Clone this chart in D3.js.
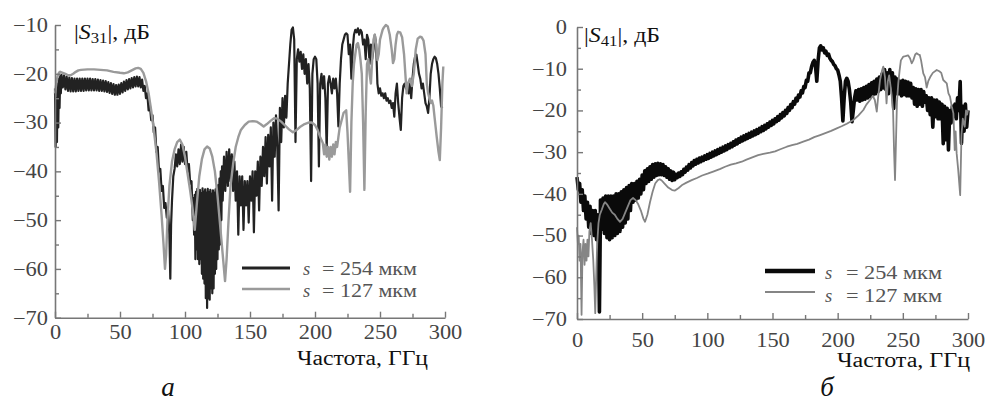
<!DOCTYPE html>
<html>
<head>
<meta charset="utf-8">
<script src="https://cdn.jsdelivr.net/npm/d3@7"></script>
<style>
  body { margin: 0; background: #fff; }
  svg { display: block; }
  text { font-family: "Liberation Serif", "Times New Roman", serif; }
</style>
</head>
<body>
<svg id="chart" width="985" height="401"></svg>
<script>
// Frequency axis ticks (GHz)
const freqTicks = [0, 50, 100, 150, 200, 250, 300];
const freqMinor = [25, 75, 125, 175, 225, 275];
// Level axis ticks (dB)
const s31Ticks = [-10, -20, -30, -40, -50, -60, -70];
const s31Minor = [-15, -25, -35, -45, -55, -65];
const s41Ticks = [0, -10, -20, -30, -40, -50, -60, -70];
const s41Minor = [-5, -15, -25, -35, -45, -55, -65];

const legendLabels = ["= 254 мкм", "= 127 мкм"];

// |S31|, dB vs frequency, GHz — gap s = 254 um
const s31_254 = [[0,-23],[0.5,-35],[1,-25],[1.5,-34],[2,-22],[2.5,-31],[3,-21],[3.5,-27],[4,-20.5],[4.5,-24],
[5,-20.2],[6,-22.8],[7,-20.3],[8,-23.2],[9,-20.6],[10,-23.5],[11,-20.8],[12,-23.6],[13,-20.9],[14,-23.6],[15,-21],[16,-23.6],[17,-21],[18,-23.5],[19,-21],[20,-23.5],[21,-21],[22,-23.5],[23,-21],[24,-23.4],[25,-21],[26,-23.4],[27,-21],[28,-23.4],[29,-21.1],[30,-23.4],[31,-21.1],[32,-23.4],[33,-21.2],[34,-23.5],[35,-21.3],[36,-23.5],[37,-21.4],[38,-23.6],[39,-21.5],[40,-23.7],[41,-21.7],[42,-23.9],[43,-21.9],[44,-24.1],[45,-22.1],[46,-24.3],[47,-22.3],[48,-24.3],[49,-22.2],[50,-24.1],[51,-21.9],[52,-23.8],[53,-21.6],[54,-23.5],[55,-21.3],[56,-23.2],[57,-21.1],[58,-23],[59,-20.9],[60,-22.8],[61,-20.7],[62,-22.6],[63,-20.6],[64,-22.6],[65,-20.7],[66,-22.8],[67,-21.2],[68,-23.5],[69,-22.5],[70,-25],
[71,-24],[72,-27.5],[73,-26.5],[74,-29.5],[75,-28.5],[76,-32],[77,-31],[78,-36],[79,-35],[80,-40],[81,-39.5],[82,-44],[83,-43],[84,-47.5],[85,-46.5],[86,-49.5],[87,-48],[88,-53],[88.7,-62],[89.3,-51],[90,-46],
[91,-41],[92,-39.5],[93,-36.5],[94,-39],[95,-35.5],[96,-38.5],[97,-34.5],[98,-38],[99,-35],[100,-38.5],[101,-36],[102,-40],[103,-38.5],[104,-42.5],[105,-42],
[106,-50],[106.5,-45.5],[107,-53],[107.5,-44.8],[108,-58],[108.5,-44.2],[109,-56],[109.5,-43.6],[110,-58],[110.5,-44.3],[111,-59],[111.5,-43.8],[112,-58],[112.5,-44.5],[113,-61],[113.5,-43.5],[114,-62],[114.5,-44.2],[115,-63],[115.5,-43.7],[116,-66],[116.5,-44.4],[117,-68],[117.5,-43.6],[118,-66],[118.5,-44.3],[119,-66.3],[119.5,-43.8],[120,-64],[120.5,-44.6],[121,-65],[121.5,-43.9],[122,-64],[122.5,-44.4],[123,-61],[123.5,-43.7],[124,-60],[124.5,-43.2],[125,-58],[125.5,-42.8],[126,-56],[126.5,-41.5],[127,-55],[127.5,-40],[128,-50],[128.5,-39],[129,-46],
[130,-37],[131,-44],[132,-36],[133,-43],[134,-35.5],[135,-42],[136,-36.5],[137,-44],[138,-38],[139,-46],[140,-40],[141,-53],[142,-41],[143,-47],[144,-41],[145,-52],[146,-42],[147,-47],[148,-42],[149,-50.5],[150,-41],[151,-46],[152,-40],[153,-52.5],[154,-40],[155,-45],[156,-38],[157,-48],[158,-37],[159,-43],[160,-35],[161,-41],[162,-33],[163,-42.5],[164,-32.5],[165,-39],[166,-31],[167,-46],[168,-30],[169,-37],[170,-28.5],[171,-35],[172,-48],[173,-27],[174,-34],[175,-25],[176,-31],[177,-24.5],[178,-29],[179,-22],
[180,-18],[181,-14],[182,-11],[183,-10.5],[184,-13],[185,-34],[186,-17],[187,-15],[188,-17.5],[189,-15.5],[190,-19],[191,-16],[192,-20],[193,-17],[194,-22],[195,-18],[196,-23],[197,-42],[198,-20],[199,-17],[200,-16.5],[201,-17],[202,-22],[203,-39],[204,-22],[205,-20],[206,-23],[207,-20.5],[208,-25],[209,-35.6],[210,-22],[211,-20.5],[212,-22],[213,-24],[214,-21],[215,-23],[216,-21],[217,-24],[218,-30.8],[219,-22],
[220,-17],[221,-14],[222,-13],[223,-12],[224,-11.7],[225,-12],[226,-16],[227,-14],[228,-21],[229,-15],[230,-12],[231,-11],[232,-11.5],[233,-10.7],[234,-12],[235,-11],[236,-11.5],[237,-14],[238,-13],[239,-17],[240,-12],[241,-13],[242,-18],[243,-14],[244,-17],[245,-15],[246,-12],[247,-14],[248,-22],[249,-24],
[250,-23],[251,-24.5],[252,-24],[253,-25],[254,-24],[255,-25.5],[256,-25],[257,-26],[258,-25.5],[259,-27],[260,-26],[261,-28.8],[262,-24],[263,-22],[264,-26],[265,-29],[266,-31.5],[267,-25],[268,-22.5],[269,-22],[270,-23],[271,-22],[272,-24],[273,-22],[274,-25],[275,-21],[276,-18],[277,-16.5],[278,-16.1],[279,-18],
[280,-20],[281,-21],[282,-23],[283,-22],[284,-24],[285,-26],[286,-26.7],[287,-28],[288,-25],[289,-20],[290,-18],[291,-17],[292,-16.5],[293,-16.8],[294,-18],[295,-20],[296,-23],[297,-26.7],[298,-27]];

// |S31|, dB — gap s = 127 um
const s31_127 = [[0,-24],[1,-22],[2,-20.5],[3,-19.8],[4,-19.6],[6,-19.8],[8,-20],[10,-20.3],[12,-20.3],[14,-20],[16,-19.6],[18,-19.3],[20,-19.2],[25,-19.1],[30,-19.1],[35,-19.2],[40,-19.3],[45,-19.6],[50,-19.8],[53,-19.9],[56,-19.7],[59,-19.3],[62,-18.9],[64,-18.8],[66,-19],[68,-19.8],[70,-21.5],[72,-24],[74,-27.5],[76,-31.5],[78,-36],[80,-42],[82,-49],[83.5,-55],[84.6,-60],[85.5,-57],[86.5,-50],[88,-43],[90,-38],[92,-35.5],[94,-34],[96,-33.5],[98,-34.5],[100,-37],[102,-40.5],[104,-44],[106,-48],[107.5,-52],[109,-47],[111,-41],[113,-37.5],[115,-35.5],[117,-34.9],[119,-35.3],[121,-37],[123,-40],[125,-45],[127,-51],[129,-57],[130.8,-62.5],[132,-58],[133.5,-50],[135,-43],[137,-38.5],[139,-35],[141,-33],[143,-31.5],[146,-30.5],[149,-29.8],[152,-29.7],[155,-29.8],[158,-30.3],[160.5,-30.8],[163,-30.3],[166,-29.6],[168.5,-29.1],[171,-29.2],[174,-29.8],[177,-30.6],[180,-31.4],[183,-32],[186,-31.5],[189,-30.8],[192,-30.3],[195,-30],[197.5,-30],[200,-30.5],[202,-31.5],[204,-33],[206,-34.2],[207,-36.5],[208,-34.5],[209,-37],[210,-35],[211,-37.6],[212,-35],[213,-37],[214,-34.5],[215,-36.5],[216,-34],[217,-35],[218,-33],[219,-31],[220,-30],[221,-29],[222,-28],[224,-27.5],[225,-32],[226,-38],[227,-44.2],[228,-30],[229,-22],[230,-18],[231,-16],[232,-14],[233,-13.7],[234,-15],[235,-17.2],[236,-20],[237,-30],[238,-43.8],[239,-28],[240,-18],[241,-17],[242,-20],[243,-22],[244,-17],[245,-13],[246,-12],[247,-14],[248,-17.2],[249,-16],[250,-13],[251,-12],[252,-11],[253,-10.5],[254.5,-10],[256,-10.3],[257.5,-12],[259,-15],[260,-17.8],[261,-17],[262,-14],[263,-12],[264,-11.4],[265.5,-11.5],[267,-12.5],[268.5,-16],[270,-22],[270.5,-24],[271.5,-22],[273,-21],[274.5,-22.5],[276,-20],[277.5,-15],[279,-12.8],[280.8,-12.4],[282,-12.5],[283.5,-13.2],[285,-16],[286,-22],[287,-24],[288,-25],[289,-26],[290,-25.5],[291,-26.5],[292,-29],[293.6,-32.9],[295,-36],[296,-37.7],[297,-31],[298,-22],[298.7,-18.5]];

// |S41|, dB — gap s = 254 um
const s41_254 = [[0,-36],[1,-39],[2,-37.5],[3,-42],[4,-39],[5,-44],[6,-40.5],[7,-46],[8,-42],[9,-48],[10,-43],[11,-49.5],[12,-44],[13,-50],[14,-44],[15,-51],[16,-45],[16.6,-52],[17.2,-68.3],[17.8,-50],[18,-41.5],[19,-48.5],[20,-41],[21,-49.5],[22,-40.5],[23,-50.5],[24,-40.5],[25,-51],[26,-40.5],[27,-50.5],[28,-40.5],[29,-50],[30,-40],[31,-49.5],[32,-40],[33,-49],[34,-39.5],[35,-48],[36,-39],[37,-47],[38,-38.5],[39,-46],[40,-38],[41,-44],[42,-37.5],[43,-42],[44,-37.5],[45,-41.5],[46,-37],[47,-41],[48,-36.5],[49,-40],[50,-35.5],[51,-39],[52,-34.5],[53,-37.5],[54,-34],[55,-37],[56,-33.5],[57,-36.5],[58,-33],[59,-36],[60,-32.8],[61,-35.6],[62,-32.7],[63,-35.4],[64,-32.8],[65,-35.4],[66,-33],[67,-35.6],[68,-33.5],[69,-36],[70,-34],[71,-36.5],[72,-34.5],[73,-36.8],[74,-34.8],[75,-36.6],
[76,-35.3],[77,-36.1],[78,-35.0],[79,-35.8],[80,-34.7],[81,-35.4],[82,-34.1],[83,-34.8],[84,-33.6],[85,-34.3],[86,-33.0],[87,-33.8],[88,-32.5],[89,-33.3],[90,-32.0],[91,-32.9],[92,-31.7],[93,-32.6],[94,-31.4],[95,-32.3],[96,-31.2],[97,-32.0],[98,-30.9],[99,-31.7],[100,-30.6],[101,-31.5],[102,-30.3],[103,-31.2],[104,-30.0],[105,-30.9],[106,-29.7],[107,-30.6],[108,-29.4],[109,-30.3],[110,-29.1],[111,-30.0],[112,-28.8],[113,-29.7],[114,-28.5],[115,-29.4],[116,-28.2],[117,-29.0],[118,-27.9],[119,-28.7],[120,-27.5],[121,-28.3],[122,-27.1],[123,-28.0],[124,-26.8],[125,-27.6],[126,-26.4],[127,-27.3],[128,-26.1],[129,-27.0],[130,-25.8],[131,-26.7],[132,-25.5],[133,-26.4],[134,-25.2],[135,-26.1],[136,-24.9],[137,-25.8],[138,-24.6],[139,-25.5],[140,-24.3],[141,-25.1],[142,-23.9],[143,-24.8],[144,-23.6],[145,-24.4],[146,-23.2],[147,-24.0],[148,-22.8],[149,-23.6],[150,-22.4],[151,-23.2],[152,-22.0],[153,-22.7],[154,-21.5],[155,-22.3],[156,-21.0],[157,-21.8],[158,-20.5],[159,-21.3],[160,-20.0],[161,-20.7],[162,-19.3],[163,-20.0],[164,-18.6],[165,-19.3],[166,-17.9],[167,-18.5],[168,-17.1],[169,-17.7],[170,-16.3],[171,-16.8],[172,-15.3],[173,-15.8],[174,-14.3],[175,-14.5],[176,-12.8],[177,-13.0],[178,-11.0],[179,-11.0],
[180,-9.5],[181,-8.5],[182,-8],[183,-9.5],[184,-13],[185,-8],[186,-5],[187,-4.5],[188,-5.5],[189,-5],[190,-6.2],[191,-5.8],[192,-6.8],[193,-6.5],[194,-7.5],[195,-8],[196,-8.3],[197,-9],[198,-9.3],[199,-10],[200,-10.3],[201,-11.5],[202,-13],[203,-17],[204,-22.5],[205,-17],[206,-13],[207,-12.3],[208,-13],[209,-15],[210,-18],[211,-22.7],[212,-20],[213,-17],[214,-15.3],[215,-17.5],[216,-15],[217,-17.8],[218,-14.8],[219,-17.5],[220,-14.5],[221,-17.3],[222,-14.2],[223,-17],[224,-13.8],[225,-16.7],[226,-13.4],[227,-16.3],[228,-13],[229,-16],[230,-12.5],[231,-15.5],[232,-12],[233,-15],[234,-11.3],[235,-14.6],[236,-10.2],[237,-15],[238,-11],[239,-16],[240,-10.2],[241,-14],[242,-11],[243,-19.5],[244,-12],[245,-16],[246,-12.5],[247,-16],[248,-13],[249,-16.5],[250,-12.8],[251,-16.2],[252,-13],[253,-16.5],[254,-13.2],[255,-16.5],[256,-13.5],[257,-17],[258,-14.5],[259,-18.5],[260,-14.8],[261,-19],[262,-15],[263,-18.5],[264,-15],[265,-19],[266,-15.5],[267,-18],[268,-16.5],[269,-20],[270,-17],[271,-21],[272,-17],[273,-24],[274,-17.5],[275,-21.5],[276,-17.5],[277,-22],[278,-18],[279,-22],[280,-18.5],[281,-28],[282,-19],[283,-27],[284,-19.5],[285,-29.5],[286,-20],[287,-23],[288,-19],[289,-21.5],[290,-18.5],[291,-22],[292,-17],[293,-20],[294,-13.1],[295,-27.9],[296,-19],[297,-25],[298,-18.5],[299,-24],[300,-20]];

// |S41|, dB — gap s = 127 um
const s41_127 = [[0,-48],[0.7,-52],[1.3,-50],[2,-56],[2.7,-52],[3.5,-69],[4.2,-54],[5,-51],[5.8,-57],[6.5,-52],[7.3,-56],[8,-51],[8.8,-55],[9.5,-49],[10.5,-47],[11.5,-51],[12.5,-56],[13.3,-62],[14,-68.6],[14.7,-60],[15.5,-52],[16.5,-47],[17.5,-45],[19,-43.8],[20.5,-42.5],[21.5,-42],[23,-42.5],[25,-43.5],[27,-44.5],[29,-45],[31,-46],[33,-46.7],[35,-46],[37,-44.5],[39,-43],[41,-41.5],[43,-41],[45,-41.5],[47,-42.5],[49,-44],[51,-46],[52.2,-46.7],[54,-45],[56,-42],[58,-39.5],[60,-37.5],[62,-36.7],[63.5,-36.5],[65,-36.8],[67,-37.5],[70,-38.5],[73,-39.1],[75.2,-39.2],[78,-38.6],[81,-37.8],[84,-37.3],[88,-36.7],[92,-36.2],[96,-35.6],[100.7,-35.1],[105,-34.6],[110,-34],[113.6,-33.5],[118,-33],[122,-32.7],[126.4,-32.3],[130,-31.8],[135,-31.2],[139,-30.7],[143,-30.4],[148,-30.1],[152,-29.8],[156,-29.3],[161,-28.7],[165,-28.3],[169,-28],[173.6,-27.5],[178,-27],[182,-26.4],[186.5,-25.9],[190,-25.5],[195,-24.9],[199.3,-24.3],[203,-23.8],[207,-23.2],[212,-22.3],[216,-21.2],[219.7,-19.9],[222,-18.6],[224.8,-17.5],[227,-16.5],[228.5,-17.5],[230,-20.3],[231,-17],[232.5,-12.7],[234,-10.5],[235,-9.5],[236.3,-12],[237.5,-18.3],[238.5,-13],[239.5,-11.6],[240.5,-14],[241.5,-16.5],[242.5,-20],[243.3,-30],[244,-36.7],[244.7,-28],[245.5,-18],[246.5,-13.5],[247.5,-10.5],[248.5,-8],[250.4,-7.1],[252,-7],[254,-6.8],[255.5,-7.5],[256.8,-8.7],[258,-8],[259.5,-6.6],[260.6,-6.3],[262,-6.6],[263,-6.7],[264,-8],[265.7,-11.1],[267,-12],[268.3,-14.5],[269.5,-13],[271,-12],[273,-11],[276,-10.3],[278,-10.6],[279.5,-11],[281,-12.7],[283.7,-13.5],[285,-15.9],[286.2,-16.7],[287.5,-19],[288.8,-20.7],[289.8,-29.5],[290.5,-25],[291.3,-30.3],[292.5,-34.3],[294,-40.3],[295,-25.9],[296,-22],[297.5,-23.9],[298.5,-20],[299.3,-21],[300,-20]];

const svg = d3.select("#chart");
const SERIF = '"Liberation Serif", "Times New Roman", serif';

// widen glyphs a little (the typeset originals use a broad face)
function widen(sel, factor) {
  sel.each(function () {
    const w = this.getComputedTextLength();
    d3.select(this).attr("textLength", w * factor).attr("lengthAdjust", "spacingAndGlyphs");
  });
}

const panels = [
  {
    x: d3.scaleLinear([0, 300], [55, 445]),
    y: d3.scaleLinear([-70, -10], [317.7, 25]),
    yTicks: s31Ticks, yMinor: s31Minor,
    xPad: 7, yPad: 7,
    sub: "31", titleX: 74, titleY: 39, titleW: 76,
    series: [
      { data: s31_254, color: "#222", width: 2.2 },
      { data: s31_127, color: "#9a9a9a", width: 2.4 }
    ],
    legend: { x1: 242, x2: 290, y: [268, 289], widths: [3.2, 2.6], sx: 303, tx: 322, tw: 95, ty: [274.5, 297] },
    label: { x: 428, y: 365, w: 131 },
    letter: { text: "а", x: 168, y: 396 }
  },
  {
    x: d3.scaleLinear([0, 300], [577, 968]),
    y: d3.scaleLinear([-70, 0], [319, 27]),
    yTicks: s41Ticks, yMinor: s41Minor,
    xPad: 14, yPad: 10,
    sub: "41", titleX: 584, titleY: 42, titleW: 76,
    series: [
      { data: s41_254, color: "#0a0a0a", width: 3.6 },
      { data: s41_127, color: "#858585", width: 1.8 }
    ],
    legend: { x1: 765, x2: 815, y: [271, 292], widths: [4.5, 2], sx: 825, tx: 846, tw: 96, ty: [279, 301.5] },
    label: { x: 970, y: 367, w: 133 },
    letter: { text: "б", x: 827, y: 396 }
  }
];

panels.forEach(p => {
  const g = svg.append("g");

  // curves
  const line = d3.line().x(d => p.x(d[0])).y(d => p.y(d[1]));
  p.series.forEach(s => {
    g.append("path")
      .attr("d", line(s.data))
      .attr("fill", "none")
      .attr("stroke", s.color)
      .attr("stroke-width", s.width)
      .attr("stroke-linejoin", "round");
  });

  const y0 = p.y.range()[0];
  const x0 = p.x.range()[0];

  // frequency axis, ticks pointing into the plot
  g.append("g").attr("transform", `translate(0,${y0})`)
    .call(d3.axisBottom(p.x).tickValues(freqTicks).tickSize(-6).tickSizeOuter(0).tickPadding(p.xPad));
  g.append("g").attr("transform", `translate(0,${y0})`)
    .call(d3.axisBottom(p.x).tickValues(freqMinor).tickSize(-4).tickSizeOuter(0).tickFormat(""))
    .select(".domain").remove();

  // level axis
  g.append("g").attr("transform", `translate(${x0},0)`)
    .call(d3.axisLeft(p.y).tickValues(p.yTicks).tickSize(-6).tickSizeOuter(0).tickPadding(p.yPad));
  g.append("g").attr("transform", `translate(${x0},0)`)
    .call(d3.axisLeft(p.y).tickValues(p.yMinor).tickSize(-4).tickSizeOuter(0).tickFormat(""))
    .select(".domain").remove();

  g.selectAll(".domain").attr("stroke", "#777").attr("stroke-width", 1.6);
  g.selectAll(".tick line").attr("stroke", "#777").attr("stroke-width", 1.4);
  const tickText = g.selectAll(".tick text")
    .attr("fill", "#444")
    .attr("font-family", SERIF)
    .attr("font-size", 20);
  widen(tickText, 1.12);

  // title |S_ij|, дБ
  const t = g.append("text").attr("x", p.titleX).attr("y", p.titleY)
    .attr("font-size", 20).attr("fill", "#111");
  t.append("tspan").text("|");
  t.append("tspan").attr("font-style", "italic").text("S");
  t.append("tspan").attr("font-size", 14).attr("dy", 4).text(p.sub);
  t.append("tspan").attr("dy", -4).text("|, дБ");
  t.attr("textLength", p.titleW).attr("lengthAdjust", "spacingAndGlyphs");

  // frequency label
  g.append("text").attr("x", p.label.x).attr("y", p.label.y)
    .attr("text-anchor", "end").attr("font-size", 20).attr("fill", "#111")
    .attr("textLength", p.label.w).attr("lengthAdjust", "spacingAndGlyphs")
    .text("Частота, ГГц");

  // panel letter
  g.append("text").attr("x", p.letter.x).attr("y", p.letter.y)
    .attr("text-anchor", "middle").attr("font-size", 27).attr("font-style", "italic")
    .attr("fill", "#111").text(p.letter.text);

  // legend
  p.series.forEach((s, i) => {
    g.append("line")
      .attr("x1", p.legend.x1).attr("x2", p.legend.x2)
      .attr("y1", p.legend.y[i]).attr("y2", p.legend.y[i])
      .attr("stroke", s.color).attr("stroke-width", p.legend.widths[i]);
    g.append("text").attr("x", p.legend.sx).attr("y", p.legend.ty[i])
      .attr("font-size", 18.5).attr("font-style", "italic").attr("fill", "#555").text("s");
    g.append("text").attr("x", p.legend.tx).attr("y", p.legend.ty[i])
      .attr("font-size", 18.5).attr("fill", "#555")
      .attr("textLength", p.legend.tw).attr("lengthAdjust", "spacingAndGlyphs")
      .text(legendLabels[i]);
  });
});
</script>
</body>
</html>
